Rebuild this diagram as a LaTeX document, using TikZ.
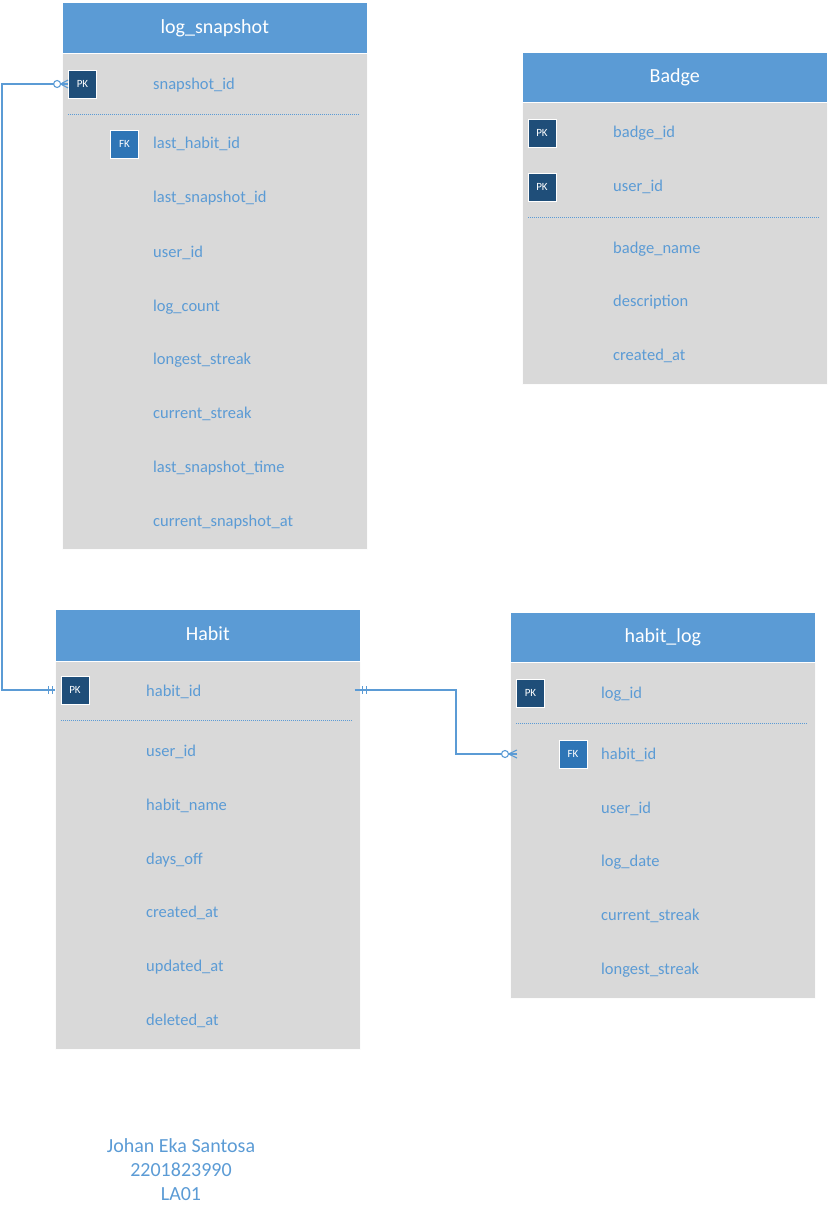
\documentclass[tikz,border=0pt]{standalone}
\usepackage{fontspec}
\setmainfont{Carlito}
\usetikzlibrary{calc}
\definecolor{hdr}{HTML}{5B9BD5}
\definecolor{bodyg}{HTML}{D9D9D9}
\definecolor{fld}{HTML}{5B9BD5}
\definecolor{pkc}{HTML}{1F4E79}
\definecolor{fkc}{HTML}{2E75B6}
\definecolor{connc}{HTML}{5B9BD5}
\begin{document}
\begin{tikzpicture}[x=1pt,y=-1pt,
  hdrbox/.style={fill=hdr, draw=white, line width=0.6pt, anchor=north west, inner sep=0, minimum width=305pt},
  title/.style={text=white, font=\fontsize{20}{24}\selectfont, inner sep=0, text height=13pt, text depth=4pt, yshift=-1pt},
  bodybox/.style={fill=bodyg, draw=white!92!bodyg, line width=0.6pt, anchor=north west, inner sep=0, minimum width=305pt},
  field/.style={anchor=west, inner sep=0, text=fld, font=\fontsize{16.5}{20}\selectfont, text height=11pt, text depth=3pt, yshift=-2pt},
  pkbadge/.style={fill=pkc, draw=white, line width=0.8pt, minimum size=28pt, inner sep=0, text=white, font=\fontsize{11}{13}\selectfont},
  fkbadge/.style={pkbadge, fill=fkc},
  sepline/.style={draw=fld, line width=0.8pt, dash pattern=on 1pt off 1pt},
  connline/.style={draw=connc, line width=1.1pt},
  footer/.style={align=center, text=fld, font=\fontsize{20}{24}\selectfont, inner sep=0}
]
\useasboundingbox (0,0) rectangle (829,1217);

% ---------- log_snapshot ----------
\node[bodybox, minimum height=496pt] (lsBody) at (62,53) {};
\node[hdrbox, minimum height=51pt] (lsHead) at (62,2) {};
\node[title] (lsTitle) at (lsHead.center) {log\_snapshot};
\node[pkbadge] (lsPK) at (82.5,84) {PK};
\node[fkbadge] (lsFK) at (124.5,144) {FK};
\draw[sepline] (68,114) -- (360,114);
\node[field] (ls1) at (153,84) {snapshot\_id};
\node[field] (ls2) at (153,143) {last\_habit\_id};
\node[field] (ls3) at (153,197) {last\_snapshot\_id};
\node[field] (ls4) at (153,251) {user\_id};
\node[field] (ls5) at (153,305) {log\_count};
\node[field] (ls6) at (153,358) {longest\_streak};
\node[field] (ls7) at (153,412) {current\_streak};
\node[field] (ls8) at (153,466) {last\_snapshot\_time};
\node[field] (ls9) at (153,520) {current\_snapshot\_at};

% ---------- Badge ----------
\node[bodybox, minimum height=282pt] (bBody) at (522,102) {};
\node[hdrbox, minimum height=50pt] (bHead) at (522,52) {};
\node[title] (bTitle) at (bHead.center) {Badge};
\node[pkbadge] (bPK1) at (542,133) {PK};
\node[pkbadge] (bPK2) at (542,187) {PK};
\draw[sepline] (528,217) -- (820,217);
\node[field] (b1) at (613,132) {badge\_id};
\node[field] (b2) at (613,186) {user\_id};
\node[field] (b3) at (613,247) {badge\_name};
\node[field] (b4) at (613,300) {description};
\node[field] (b5) at (613,354) {created\_at};

% ---------- Habit ----------
\node[bodybox, minimum height=388pt] (hBody) at (55,661) {};
\node[hdrbox, minimum height=52pt] (hHead) at (55,609) {};
\node[title] (hTitle) at (hHead.center) {Habit};
\node[pkbadge] (hPK) at (75,690) {PK};
\draw[sepline] (61,720) -- (353,720);
\node[field] (h1) at (146,690) {habit\_id};
\node[field] (h2) at (146,750) {user\_id};
\node[field] (h3) at (146,804) {habit\_name};
\node[field] (h4) at (146,858) {days\_off};
\node[field] (h5) at (146,911) {created\_at};
\node[field] (h6) at (146,965) {updated\_at};
\node[field] (h7) at (146,1019) {deleted\_at};

% ---------- habit_log ----------
\node[bodybox, minimum height=336pt] (hlBody) at (510,662) {};
\node[hdrbox, minimum height=50pt] (hlHead) at (510,612) {};
\node[title] (hlTitle) at (hlHead.center) {habit\_log};
\node[pkbadge] (hlPK) at (530.5,693) {PK};
\node[fkbadge] (hlFK) at (573,754) {FK};
\draw[sepline] (516,723) -- (808,723);
\node[field] (hl1) at (601,692) {log\_id};
\node[field] (hl2) at (601,753) {habit\_id};
\node[field] (hl3) at (601,807) {user\_id};
\node[field] (hl4) at (601,860) {log\_date};
\node[field] (hl5) at (601,914) {current\_streak};
\node[field] (hl6) at (601,968) {longest\_streak};

% ---------- connector: log_snapshot (zero or many) -- Habit (one) ----------
\coordinate (ja) at (2,84);
\coordinate (jb) at (2,690);
\draw[connline] (lsPK.west) ++(-14.5,0) -- (ja) -- (jb) -- ($(hPK.west)+(-6,0)$);
\draw[connline] ($(lsPK.west)+(-11,0)$) circle (3.5);
\draw[connline] ($(lsPK.west)+(-7.5,0)$) -- ($(lsPK.west)+(0,-4)$);
\draw[connline] ($(lsPK.west)+(-7.5,0)$) -- ($(lsPK.west)+(0,4)$);
\draw[connline] ($(lsPK.west)+(-7.5,0)$) -- (lsPK.west);
\draw[connline] ($(hPK.west)+(-12,-4)$) -- ($(hPK.west)+(-12,4)$);
\draw[connline] ($(hPK.west)+(-8,-4)$) -- ($(hPK.west)+(-8,4)$);

% ---------- connector: Habit (one) -- habit_log (zero or many) ----------
\coordinate (hR) at ($(hPK -| hBody.east)+(-6,0)$);
\coordinate (jc) at (456,690);
\coordinate (jd) at (456,754);
\coordinate (hlC) at ($(hlBody.west |- hlFK)+(-8.5,0)$);
\draw[connline] (hR) -- (jc) -- (jd) -- (hlC);
\draw[connline] ($(hR)+(8,-4)$) -- ($(hR)+(8,4)$);
\draw[connline] ($(hR)+(12,-4)$) -- ($(hR)+(12,4)$);
\draw[connline] ($(hlC)+(3.5,0)$) circle (3.5);
\draw[connline] ($(hlC)+(7,0)$) -- ($(hlBody.west |- hlFK)+(7,-4)$);
\draw[connline] ($(hlC)+(7,0)$) -- ($(hlBody.west |- hlFK)+(7,4)$);
\draw[connline] ($(hlC)+(7,0)$) -- ($(hlBody.west |- hlFK)+(7,0)$);

% ---------- footer ----------
\node[footer] (foot) at (181,1170) {Johan Eka Santosa\\2201823990\\LA01};
\end{tikzpicture}
\end{document}
